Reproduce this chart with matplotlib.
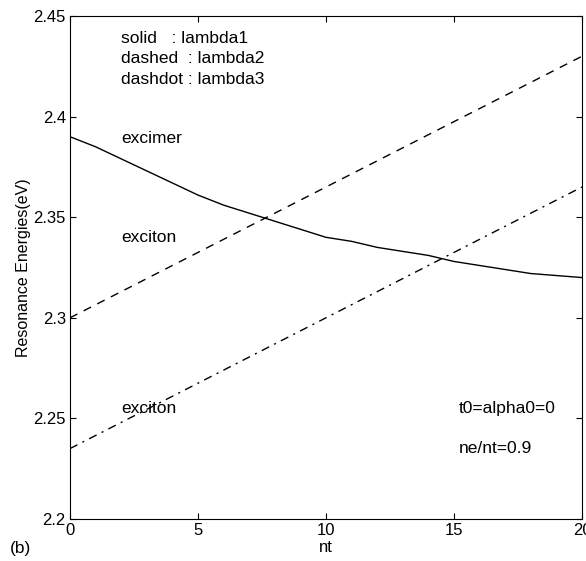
import numpy as np
import matplotlib
matplotlib.use('Agg')
import matplotlib.pyplot as plt

plt.rcParams['font.family'] = ['Liberation Sans', 'DejaVu Sans']

# nt values
nt = [0, 1, 2, 3, 4, 5, 6, 7, 8, 9, 10, 11, 12, 13, 14, 15, 16, 17, 18, 19, 20]
# lambda1 (excimer)
lambda1 = [2.390, 2.385, 2.379, 2.373, 2.367, 2.361, 2.356, 2.352, 2.348, 2.344,
           2.340, 2.338, 2.335, 2.333, 2.331, 2.328, 2.326, 2.324, 2.322, 2.321, 2.320]
# lambda2, lambda3 (excitons), end points
nt_lin = [0, 20]
lambda2 = [2.300, 2.430]
lambda3 = [2.235, 2.365]

fig = plt.figure(figsize=(5.86, 5.61), dpi=100)
ax = fig.add_axes([70/586, 1 - 519/561, 512/586, 503/561])

ax.plot(nt, lambda1, '-k', lw=1)
ax.plot(nt_lin, lambda2, '--k', lw=1, dashes=(6, 5))
ax.plot(nt_lin, lambda3, '-.k', lw=1, dashes=(6, 4, 1.5, 4))

ax.set_xlim(0, 20)
ax.set_ylim(2.2, 2.45)
ax.set_xticks([0, 5, 10, 15, 20])
ax.set_yticks([2.2, 2.25, 2.3, 2.35, 2.4, 2.45])
ax.set_yticklabels(['2.2', '2.25', '2.3', '2.35', '2.4', '2.45'])
ax.tick_params(direction='in', top=True, right=True, labelsize=12, length=4, pad=3)
ax.set_xlabel('nt', fontsize=12, labelpad=1)
ax.set_ylabel('Resonance Energies(eV)', fontsize=11.5, labelpad=2)

fs = 12.5
ax.text(2.0, 2.439, 'solid   : lambda1', fontsize=fs, va='center')
ax.text(2.0, 2.4288, 'dashed  : lambda2', fontsize=fs, va='center')
ax.text(2.0, 2.4186, 'dashdot : lambda3', fontsize=fs, va='center')
ax.text(2.0, 2.389, 'excimer', fontsize=fs, va='center')
ax.text(2.0, 2.340, 'exciton', fontsize=fs, va='center')
ax.text(2.0, 2.255, 'exciton', fontsize=fs, va='center')
ax.text(15.2, 2.255, 't0=alpha0=0', fontsize=fs, va='center')
ax.text(15.2, 2.235, 'ne/nt=0.9', fontsize=fs, va='center')

fig.text(10/586, 1 - 549/561, '(b)', fontsize=12.5, va='center')

fig.savefig('out.png', dpi=100)
